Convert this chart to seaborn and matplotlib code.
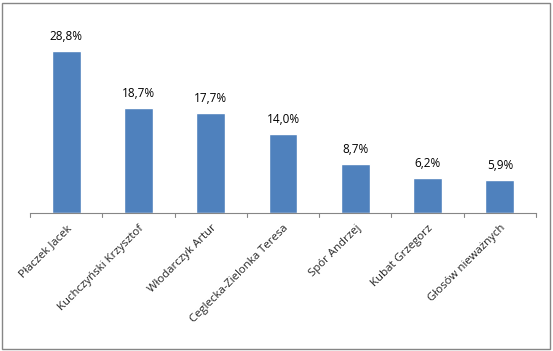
import matplotlib
matplotlib.use('Agg')
import matplotlib.pyplot as plt
import seaborn as sns
import pandas as pd
from matplotlib.patches import Rectangle

candidates = ['Płaczek Jacek', 'Kuchczyński Krzysztof', 'Włodarczyk Artur',
              'Ceglecka-Zielonka Teresa', 'Spór Andrzej', 'Kubat Grzegorz',
              'Głosów nieważnych']
shares = [28.8, 18.7, 17.7, 14.0, 8.7, 6.2, 5.9]

df = pd.DataFrame({'name': candidates, 'share': shares})

sns.set_style('white')
plt.rcParams['font.family'] = ['Open Sans', 'DejaVu Sans']

fig = plt.figure(figsize=(5.53, 3.51), dpi=100)
ax = fig.add_axes([30 / 553, 1 - 213 / 351, (536 - 30) / 553, (213 - 16) / 351])

sns.barplot(data=df, x='name', y='share', color='#4F81BD', width=0.4,
            saturation=1, ax=ax)

for i, v in enumerate(shares):
    ax.text(i, v + 1.4, f'{v:.1f}%'.replace('.', ','), ha='center', va='bottom',
            fontsize=8.5, color='black')

ax.set_ylim(0, 35)
ax.set_xlim(-0.5, len(candidates) - 0.5)
ax.set_xlabel('')
ax.set_ylabel('')
ax.set_yticks([])
for side in ['left', 'right', 'top']:
    ax.spines[side].set_visible(False)
ax.spines['bottom'].set_color('#868686')
ax.spines['bottom'].set_linewidth(0.8)

ax.set_xticks(range(len(candidates)))
ax.set_xticklabels(candidates, rotation=45, ha='right', rotation_mode='anchor',
                   fontsize=8.2)
ax.tick_params(axis='x', length=0, pad=7)
# category boundary ticks
for b in [i - 0.5 for i in range(len(candidates) + 1)]:
    ax.plot([b, b], [0, -0.7], color='#868686', lw=0.8, clip_on=False)

fig.patches.append(Rectangle((2 / 553, 2 / 351), 548 / 553, 346 / 351,
                             transform=fig.transFigure, fill=False,
                             edgecolor='#868686', lw=1))

fig.savefig('out.png', dpi=100)
